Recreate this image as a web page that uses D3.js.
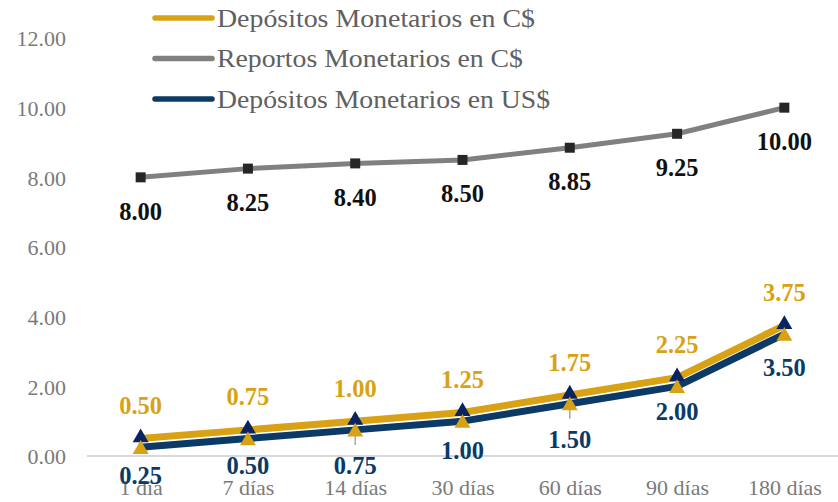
<!DOCTYPE html>
<html>
<head>
<meta charset="utf-8">
<script src="https://cdn.jsdelivr.net/npm/d3@7/dist/d3.min.js"></script>
<style>
  html, body { margin: 0; padding: 0; background: #fff; }
  svg { display: block; }
  text { font-family: "Liberation Serif", "Times New Roman", serif; }
</style>
</head>
<body>
<svg id="chart" width="838" height="502"></svg>
<script>
// Plazos y tasas (%)
const categories = ["1 día", "7 días", "14 días", "30 días", "60 días", "90 días", "180 días"];
const depositosCS = [0.50, 0.75, 1.00, 1.25, 1.75, 2.25, 3.75];
const reportosCS = [8.00, 8.25, 8.40, 8.50, 8.85, 9.25, 10.00];
const depositosUS = [0.25, 0.50, 0.75, 1.00, 1.50, 2.00, 3.50];
const yTicks = [0, 2, 4, 6, 8, 10, 12];
const seriesNames = ["Depósitos Monetarios en C$", "Reportos Monetarios en C$", "Depósitos Monetarios en US$"];

const GOLD = "#D8A214";
const NAVY = "#0B3A66";
const DARKNAVY = "#0A2463";
const GREY = "#808080";
const SQUARE = "#262626";
const AXISTEXT = "#7a7a7a";

const svg = d3.select("#chart");

const x = d3.scalePoint().domain(categories).range([87 + 107.3 / 2, 838 - 107.3 / 2]);
const y = d3.scaleLinear().domain([0, 12]).range([456, 38]);

// Eje Y: solo etiquetas
const yAxis = d3.axisLeft(y).tickValues(yTicks).tickFormat(d3.format(".2f")).tickSize(0).tickPadding(0);
const gy = svg.append("g").attr("transform", "translate(66,0)").call(yAxis);
gy.select(".domain").remove();
gy.selectAll("text").attr("fill", AXISTEXT).style("font-size", "22px").attr("dy", "0.35em");

// Eje X
const xAxis = d3.axisBottom(x).tickSize(0).tickPadding(0);
const gx = svg.append("g").attr("transform", "translate(0,456)").call(xAxis);
gx.select(".domain").remove();
gx.selectAll("text").attr("fill", AXISTEXT).style("font-size", "22px").attr("dy", "1.75em");
svg.append("line").attr("x1", 87).attr("x2", 838).attr("y1", y(0)).attr("y2", y(0))
  .attr("stroke", "#d9d9d9").attr("stroke-width", 2);

const line = d3.line().x((d, i) => x(categories[i])).y(d => y(d));
const tri = d3.symbol().type(d3.symbolTriangle).size(110);
const sq = d3.symbol().type(d3.symbolSquare).size(100);

// Líneas guía de etiquetas desplazadas
const leaderIdx = [2, 4];
svg.append("g").selectAll("line").data(leaderIdx).join("line")
  .attr("x1", i => x(categories[i])).attr("x2", i => x(categories[i]))
  .attr("y1", i => y(depositosUS[i]) + 1).attr("y2", i => y(depositosUS[i]) + 15)
  .attr("stroke", "#a6a6a6").attr("stroke-width", 1.5);

// Reportos
svg.append("path").datum(reportosCS).attr("d", line)
  .attr("fill", "none").attr("stroke", GREY).attr("stroke-width", 5).attr("stroke-linejoin", "round");
svg.append("g").selectAll("path").data(reportosCS).join("path")
  .attr("d", sq).attr("fill", SQUARE)
  .attr("transform", (d, i) => `translate(${x(categories[i])},${y(d)})`);

// Depósitos C$
svg.append("path").datum(depositosCS).attr("d", line)
  .attr("fill", "none").attr("stroke", GOLD).attr("stroke-width", 7).attr("stroke-linejoin", "round");
// Depósitos US$
svg.append("path").datum(depositosUS).attr("d", line)
  .attr("fill", "none").attr("stroke", NAVY).attr("stroke-width", 7).attr("stroke-linejoin", "round");

svg.append("g").selectAll("path").data(depositosCS).join("path")
  .attr("d", tri).attr("fill", DARKNAVY)
  .attr("transform", (d, i) => `translate(${x(categories[i])},${y(d) - 1})`);
svg.append("g").selectAll("path").data(depositosUS).join("path")
  .attr("d", tri).attr("fill", GOLD)
  .attr("transform", (d, i) => `translate(${x(categories[i])},${y(d) + 2})`);

// Etiquetas de datos
const fmt = d3.format(".2f");
const usLabelDy = [28, 27, 36, 29, 36, 25, 33];
function labels(data, color, dyFn) {
  svg.append("g").selectAll("text").data(data).join("text")
    .attr("x", (d, i) => x(categories[i]))
    .attr("y", (d, i) => y(d) + dyFn(i))
    .attr("dy", "0.35em")
    .attr("text-anchor", "middle")
    .attr("fill", color)
    .style("font-size", "24.5px").style("font-weight", "bold")
    .text(d => fmt(d));
}
labels(reportosCS, "#111111", () => 34);
labels(depositosCS, GOLD, () => -33);
labels(depositosUS, NAVY, i => usLabelDy[i]);

// Leyenda
const legendRows = [
  { name: seriesNames[0], stroke: GOLD, marker: d3.symbol().type(d3.symbolTriangle).size(130), fill: DARKNAVY, len: 318 },
  { name: seriesNames[1], stroke: GREY, marker: d3.symbol().type(d3.symbolSquare).size(110), fill: SQUARE, len: 306 },
  { name: seriesNames[2], stroke: NAVY, marker: d3.symbol().type(d3.symbolTriangle).size(80), fill: GOLD, len: 333 }
];
const lg = svg.append("g").selectAll("g").data(legendRows).join("g")
  .attr("transform", (d, i) => `translate(0,${18 + i * 40.5})`);
lg.append("line").attr("x1", 155).attr("x2", 212).attr("y1", 0).attr("y2", 0)
  .attr("stroke", d => d.stroke).attr("stroke-width", 5.5).attr("stroke-linecap", "round");
lg.append("path").attr("d", d => d.marker).attr("fill", d => d.fill)
  .attr("transform", "translate(183,0)");
lg.append("text").attr("x", 217).attr("y", 0).attr("dy", "0.33em")
  .attr("fill", "#606060").style("font-size", "26px")
  .attr("textLength", d => d.len).attr("lengthAdjust", "spacingAndGlyphs")
  .text(d => d.name);
</script>
</body>
</html>
